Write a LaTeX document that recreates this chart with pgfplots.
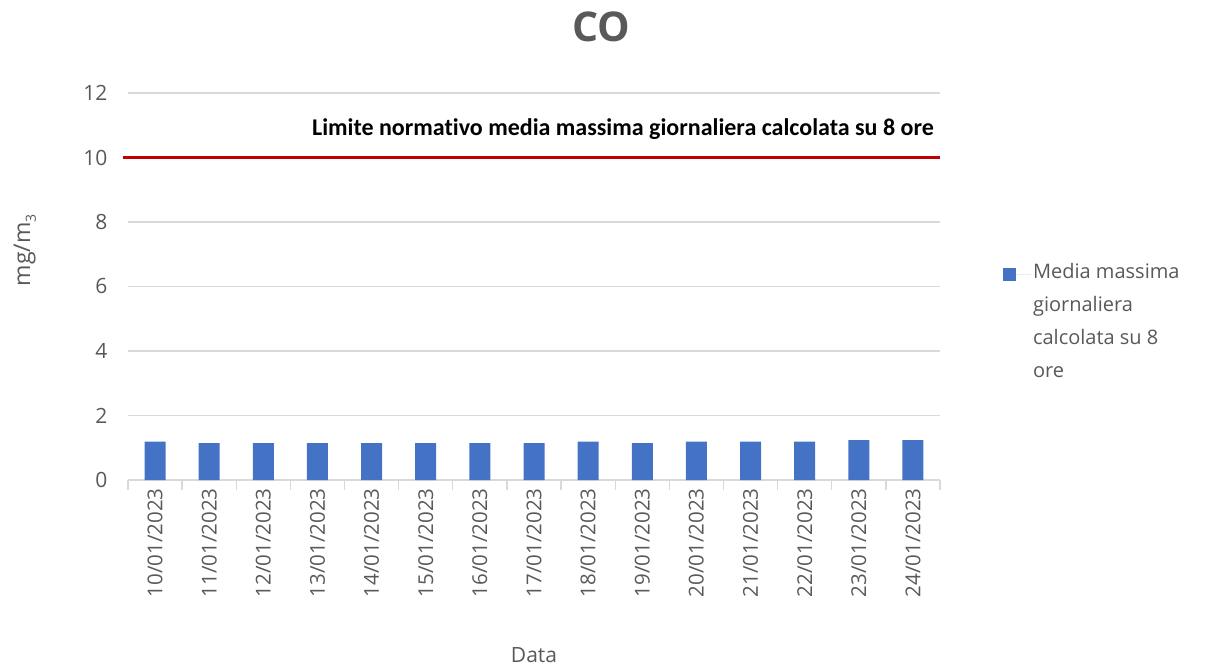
\documentclass[border=0pt]{standalone}
\usepackage{pgfplots}
\pgfplotsset{compat=1.18}
\usepackage{fontspec}
\setmainfont{Open Sans}
\newfontfamily\calibri[Ligatures=NoCommon]{Carlito}
\definecolor{barblue}{HTML}{4472C4}
\definecolor{limred}{HTML}{C00000}
\definecolor{txtgray}{HTML}{595959}
\definecolor{gridgray}{HTML}{D9D9D9}
\begin{document}
\begin{tikzpicture}
\useasboundingbox (0,0) rectangle (1214pt,669pt);
\begin{axis}[
  at={(128pt,189pt)}, anchor=south west,
  scale only axis, width=812pt, height=387pt,
  xmin=-0.5, xmax=14.5, ymin=0, ymax=12,
  clip=false,
  axis lines*=left,
  y axis line style={draw=none},
  x axis line style={draw=gridgray, line width=1.3pt, -},
  ytick={0,2,...,12},
  ymajorgrids, grid style={gridgray, line width=1.3pt},
  ytick style={draw=none},
  xtick={0,...,14},
  xticklabels={10/01/2023,11/01/2023,12/01/2023,13/01/2023,14/01/2023,15/01/2023,16/01/2023,17/01/2023,18/01/2023,19/01/2023,20/01/2023,21/01/2023,22/01/2023,23/01/2023,24/01/2023},
  major x tick style={draw=none},
  minor xtick={-0.5,0.5,...,14.5},
  minor x tick style={draw=gridgray, line width=1.3pt},
  minor tick length=10pt,
  tick align=outside,
  xtick pos=bottom,
  major tick length=0pt,
  xticklabel style={rotate=90, anchor=east, font=\fontsize{20.5}{24}\selectfont, text=txtgray},
  xticklabel shift=5pt,
  yticklabel style={font=\fontsize{21}{24}\selectfont, text=txtgray},
  yticklabel shift=17pt,
  /pgf/number format/assume math mode=true,
  xlabel={Data},
  ylabel={mg/m\raisebox{-0.25em}{\fontsize{14}{15}\selectfont 3}},
  xlabel style={at={(axis description cs:0.5,-0.452)}, anchor=center, font=\fontsize{21}{24}\selectfont, text=txtgray},
  ylabel style={at={(axis description cs:-0.127,0.594)}, anchor=center, font=\fontsize{23}{26}\selectfont, text=txtgray},
  legend style={at={(1.0737,0.572)}, anchor=north west, draw=none, fill=none,
    font=\fontsize{20}{33}\selectfont, text=txtgray,
    cells={align=left}},
  legend cell align=left,
]
\addplot[ybar, bar width=21pt, fill=barblue, draw=none,
  legend image code/.code={\fill[barblue] (0pt,39.5pt) rectangle (13pt,52.5pt); \path (0pt,46pt) -- (28pt,46pt);}]
coordinates {
(0,1.19) (1,1.14) (2,1.14) (3,1.14) (4,1.14) (5,1.14) (6,1.14) (7,1.14)
(8,1.19) (9,1.14) (10,1.19) (11,1.19) (12,1.19) (13,1.24) (14,1.24)
};
\addlegendentry{Media massima\\giornaliera\\calcolata su 8\\ore}
\addplot[limred, line width=3pt, forget plot] coordinates {(-0.6,10) (14.5,10)};
\node[anchor=east, font=\calibri\bfseries\fontsize{24}{28}\selectfont, text=black] at (axis cs:14.45,10.88) {Limite normativo media massima giornaliera calcolata su 8 ore};
\end{axis}
\node[font=\bfseries\fontsize{41}{44}\selectfont, text=txtgray] at (601pt,642pt) {CO};
\end{tikzpicture}
\end{document}
